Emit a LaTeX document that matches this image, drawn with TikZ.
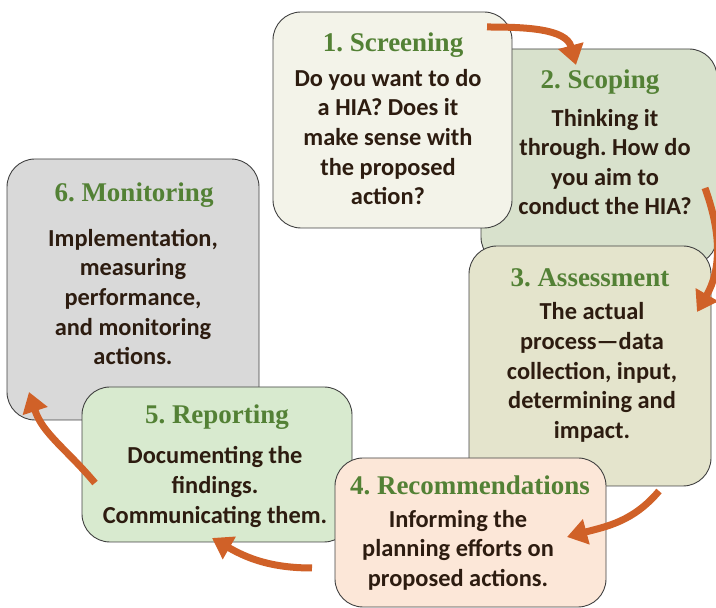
\documentclass[tikz,border=0pt]{standalone}
\usepackage{fontspec}
\setmainfont{Carlito}
\newfontfamily\ttlfont{Liberation Serif}
\usetikzlibrary{arrows.meta}
\frenchspacing
\definecolor{ttlgreen}{RGB}{83,129,53}
\definecolor{bodybrown}{RGB}{45,28,16}
\definecolor{arrorange}{RGB}{208,97,40}
\definecolor{edgegray}{RGB}{64,64,64}
\definecolor{fillA}{RGB}{243,243,233}
\definecolor{fillB}{RGB}{216,225,204}
\definecolor{fillC}{RGB}{228,228,204}
\definecolor{fillD}{RGB}{252,231,216}
\definecolor{fillE}{RGB}{216,234,207}
\definecolor{fillF}{RGB}{217,217,217}
\tikzset{
  stagebox/.style={draw=edgegray, line width=0.9pt, rounded corners=28pt, inner sep=0pt},
  ttl/.style={anchor=base, text=ttlgreen, font=\ttlfont\bfseries\fontsize{27}{32}\selectfont\frenchspacing, inner sep=0pt},
  bodytext/.style={text=bodybrown, align=center, font=\bfseries\fontsize{24.4}{29.6}\selectfont\frenchspacing, inner sep=0pt},
  flow/.style={draw=arrorange, line width=7pt, -{Triangle[length=20pt,width=25pt]}}
}
\begin{document}
\begin{tikzpicture}[x=1pt,y=1pt]
\useasboundingbox (0,0) rectangle (716,608);
% boxes (drawing order matters for overlaps)
\node[stagebox, fill=fillB, minimum width=236pt, minimum height=216pt] (b2) at (599,451) {};
\node[stagebox, fill=fillA, minimum width=239pt, minimum height=216pt] (b1) at (392.5,488) {};
\node[stagebox, fill=fillC, minimum width=242pt, minimum height=240pt] (b3) at (590,242) {};
\node[stagebox, fill=fillF, minimum width=252pt, minimum height=261pt] (b6) at (133,318.5) {};
\node[stagebox, fill=fillE, minimum width=270pt, minimum height=155pt] (b5) at (217,143.5) {};
\node[stagebox, fill=fillD, minimum width=271pt, minimum height=149pt] (b4) at (470.5,75.5) {};
% titles
\node[ttl] (t1) at (393,556) {1. Screening};
\node[ttl] (t2) at (600,519) {2. Scoping};
\node[ttl] (t3) at (590,321) {3. Assessment};
\node[ttl] (t4) at (470,113) {4. Recommendations};
\node[ttl] (t5) at (217,184) {5. Reporting};
\node[ttl] (t6) at (134,406) {6. Monitoring};
% body texts
\node[bodytext] (d1) at (388,471) {Do you want to do\\a HIA? Does it\\make sense with\\the proposed\\action?};
\node[bodytext] (d2) at (605,446) {Thinking it\\through. How do\\you aim to\\conduct the HIA?};
\node[bodytext] (d3) at (592,235.5) {The actual\\process—data\\collection, input,\\determining and\\impact.};
\node[bodytext] (d4) at (458,58) {Informing the\\planning efforts on\\proposed actions.};
\node[bodytext] (d5) at (215,121) {Documenting the\\findings.\\Communicating them.};
\node[bodytext] (d6) at (133,311) {Implementation,\\measuring\\performance,\\and monitoring\\actions.};
% connector end points
\coordinate (a1s) at (487,581);
\coordinate (a1e) at (576,543);
\coordinate (a2s) at (705,420);
\coordinate (a2e) at (697,296);
\coordinate (a3s) at (659,117);
\coordinate (a3e) at (567,71);
\coordinate (a4s) at (312,40);
\coordinate (a4e) at (212,70);
\coordinate (a5s) at (95,125);
\coordinate (a5e) at (29,216);
% arrows
\draw[flow] (a1s) to[out=0, in=105] (a1e);
\draw[flow] (a2s) to[out=-70, in=60] (a2e);
\draw[flow] (a3s) to[out=-130, in=15] (a3e);
\draw[flow] (a4s) to[out=180, in=-30] (a4e);
\draw[flow] (a5s) to[out=130, in=-72] (a5e);
\end{tikzpicture}
\end{document}
